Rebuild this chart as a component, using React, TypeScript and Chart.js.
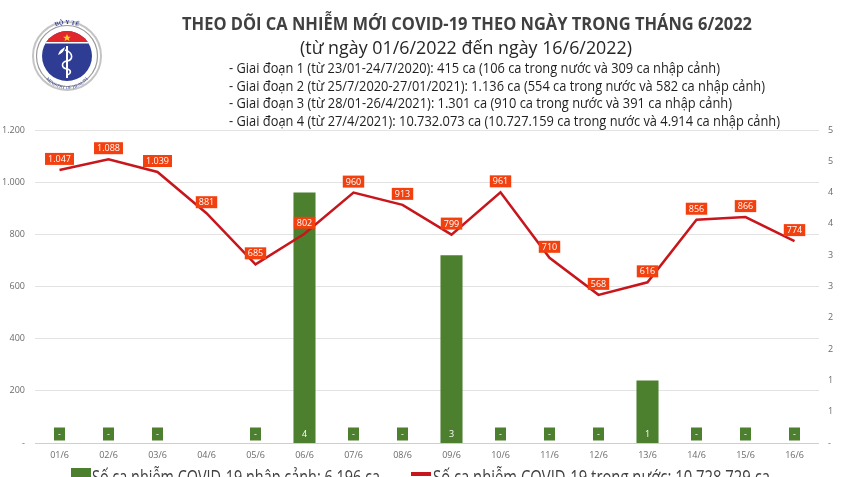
import React, { useEffect, useRef } from "react";
import { Chart, registerables } from "chart.js";

Chart.register(...registerables);

const categories = ["01/6", "02/6", "03/6", "04/6", "05/6", "06/6", "07/6", "08/6", "09/6", "10/6", "11/6", "12/6", "13/6", "14/6", "15/6", "16/6"];
const domesticCases = [1047, 1088, 1039, 881, 685, 802, 960, 913, 799, 961, 710, 568, 616, 856, 866, 774];
const importedCases: (number | null)[] = [0, 0, 0, null, 0, 4, 0, 0, 3, 0, 0, 0, 1, 0, 0, 0];

const titleText = "THEO DÕI CA NHIỄM MỚI COVID-19 THEO NGÀY TRONG THÁNG 6/2022";
const subtitleText = "(từ ngày 01/6/2022 đến ngày 16/6/2022)";
const periodLines = [
  "- Giai đoạn 1 (từ 23/01-24/7/2020): 415 ca (106 ca trong nước và 309 ca nhập cảnh)",
  "- Giai đoạn 2 (từ 25/7/2020-27/01/2021): 1.136 ca (554 ca trong nước và 582 ca nhập cảnh)",
  "- Giai đoạn 3 (từ 28/01-26/4/2021): 1.301 ca (910 ca trong nước và 391 ca nhập cảnh)",
  "- Giai đoạn 4 (từ 27/4/2021): 10.732.073 ca (10.727.159 ca trong nước và 4.914 ca nhập cảnh)",
];
const legendImported = "Số ca nhiễm COVID-19 nhập cảnh: 6.196 ca";
const legendDomestic = "Số ca nhiễm COVID-19 trong nước: 10.728.729 ca";

const BAR_COLOR = "#4c7f2e";
const LINE_COLOR = "#c8161d";
const LABEL_RED = "#f2400e";
const TICK_COLOR = "#6b6b6b";

const fmt = (n: number) => String(Math.round(n)).replace(/\B(?=(\d{3})+(?!\d))/g, ".");

const labelPlugin = {
  id: "valueLabels",
  afterDatasetsDraw(chart: any) {
    const ctx = chart.ctx;
    const barMeta = chart.getDatasetMeta(0);
    const lineMeta = chart.getDatasetMeta(1);
    const y2 = chart.scales.y2;
    ctx.save();
    ctx.textAlign = "center";
    ctx.textBaseline = "middle";
    ctx.font = '9px "Open Sans"';
    barMeta.data.forEach((el: any, i: number) => {
      const v = importedCases[i];
      if (v === null || v === undefined) return;
      const x = el.x;
      const base = y2.getPixelForValue(0);
      const w = 11, h = 13;
      const cy = base - 9;
      ctx.fillStyle = BAR_COLOR;
      ctx.fillRect(x - w / 2, cy - h / 2, w, h);
      ctx.fillStyle = "#ffffff";
      ctx.fillText(v === 0 ? "-" : String(v), x, cy + 0.5);
    });
    lineMeta.data.forEach((el: any, i: number) => {
      const txt = fmt(domesticCases[i]);
      const tw = ctx.measureText(txt).width;
      const w = tw + 6, h = 12;
      const cx = el.x;
      const cy = el.y - 11;
      ctx.fillStyle = LABEL_RED;
      ctx.fillRect(cx - w / 2, cy - h / 2, w, h);
      ctx.fillStyle = "#ffffff";
      ctx.fillText(txt, cx, cy + 0.5);
    });
    ctx.restore();
  },
};

function Logo() {
  const cx = 67, cy = 56;
  return (
    <g>
      <defs>
        <clipPath id="innerClip">
          <circle cx={cx} cy={cy} r={25} />
        </clipPath>
        <path id="bottomArc" d={`M ${cx - 27} ${cy + 6} A 27 27 0 0 0 ${cx + 27} ${cy + 6}`} />
        <path id="topArc" d={`M ${cx - 28} ${cy - 4} A 28 28 0 0 1 ${cx + 28} ${cy - 4}`} />
      </defs>
      <circle cx={cx} cy={cy} r={34} fill="#ffffff" stroke="#c4c4c4" strokeWidth={2} />
      <circle cx={cx} cy={cy} r={30.5} fill="#ffffff" stroke="#9a9a9a" strokeWidth={1.2} />
      <circle cx={cx} cy={cy} r={25} fill="#2e3d93" />
      <g clipPath="url(#innerClip)">
        <rect x={cx - 26} y={cy - 26} width={52} height={12} fill="#e1262c" />
        <rect x={cx - 26} y={cy - 14} width={52} height={1.5} fill="#ffffff" />
      </g>
      <polygon points={`${cx},${cy - 22} ${cx + 1.2},${cy - 19.3} ${cx + 3.8},${cy - 19.3} ${cx + 1.7},${cy - 17.6} ${cx + 2.4},${cy - 15} ${cx},${cy - 16.6} ${cx - 2.4},${cy - 15} ${cx - 1.7},${cy - 17.6} ${cx - 3.8},${cy - 19.3} ${cx - 1.2},${cy - 19.3}`} fill="#ffd21f" />
      <line x1={cx} y1={cy - 10} x2={cx} y2={cy + 22} stroke="#ffffff" strokeWidth={2} />
      <path d={`M ${cx - 2} ${cy - 6} C ${cx + 7} ${cy - 3}, ${cx + 6} ${cy + 4}, ${cx} ${cy + 5} C ${cx - 6} ${cy + 6}, ${cx - 6} ${cy + 12}, ${cx} ${cy + 13} C ${cx + 5} ${cy + 14}, ${cx + 4} ${cy + 18}, ${cx} ${cy + 19}`} stroke="#ffffff" strokeWidth={1.6} fill="none" />
      <path d={`M ${cx - 9} ${cy - 1} C ${cx - 7} ${cy - 7}, ${cx - 3} ${cy - 8}, ${cx - 2} ${cy - 9} C ${cx - 3} ${cy - 4}, ${cx - 6} ${cy - 2}, ${cx - 9} ${cy - 1} Z`} fill="#ffffff" />
      <text fontFamily="Liberation Serif" fontSize={6} fontWeight={700} fill="#2e3d93">
        <textPath href="#topArc" startOffset="50%" textAnchor="middle">BỘ Y TẾ</textPath>
      </text>
      <text fontFamily="Liberation Serif" fontSize={4.6} fill="#2e3d93">
        <textPath href="#bottomArc" startOffset="50%" textAnchor="middle">MINISTRY OF HEALTH</textPath>
      </text>
    </g>
  );
}

export default function App() {
  const canvasRef = useRef<HTMLCanvasElement | null>(null);

  useEffect(() => {
    if (!canvasRef.current) return;
    const chart = new Chart(canvasRef.current, {
      type: "bar",
      data: {
        labels: categories,
        datasets: [
          {
            type: "bar",
            label: legendImported,
            data: importedCases as any,
            backgroundColor: BAR_COLOR,
            yAxisID: "y2",
            barPercentage: 0.45,
            categoryPercentage: 1,
            order: 2,
          },
          {
            type: "line",
            label: legendDomestic,
            data: domesticCases,
            borderColor: LINE_COLOR,
            backgroundColor: LINE_COLOR,
            borderWidth: 2.5,
            pointRadius: 0,
            tension: 0,
            yAxisID: "y",
            order: 1,
          } as any,
        ],
      },
      options: {
        responsive: false,
        animation: false,
        layout: { padding: { top: 130, left: 0, right: 0, bottom: 0 } },
        plugins: {
          legend: { display: false },
          title: { display: false },
          tooltip: { enabled: false },
        },
        scales: {
          x: {
            grid: { display: false, drawTicks: false },
            border: { display: false },
            ticks: {
              color: TICK_COLOR,
              font: { family: "Open Sans", size: 9 },
              padding: 7,
              maxRotation: 0,
              autoSkip: false,
            },
            afterFit: (s: any) => {
              s.height = 34;
            },
          },
          y: {
            position: "left",
            min: 0,
            max: 1200,
            border: { display: false },
            grid: {
              drawTicks: false,
              color: (c: any) => (c.tick && c.tick.value === 0 ? "#cfcfcf" : "#e3e3e3"),
              lineWidth: 1,
            },
            ticks: {
              stepSize: 200,
              color: TICK_COLOR,
              font: { family: "Open Sans", size: 9 },
              padding: 10,
              callback: (v: any) => (Number(v) === 0 ? "-" : fmt(Number(v))),
            },
            afterFit: (s: any) => {
              s.width = 35;
            },
          },
          y2: {
            position: "right",
            min: 0,
            max: 5,
            border: { display: false },
            grid: { display: false, drawTicks: false },
            ticks: {
              stepSize: 0.5,
              color: TICK_COLOR,
              font: { family: "Open Sans", size: 9 },
              padding: 9,
              callback: (v: any) => (Number(v) === 0 ? "-" : String(Math.round(Number(v)))),
            },
            afterFit: (s: any) => {
              s.width = 29;
            },
          },
        },
      },
      plugins: [labelPlugin],
    } as any);
    return () => chart.destroy();
  }, []);

  const lineBaselines = [73, 90.5, 108, 125.5];
  const lineEnds = [720, 765, 732, 780];
  const lineStart = 229;

  return (
    <div style={{ position: "absolute", left: 0, top: 0, width: 848, height: 477, overflow: "hidden", background: "#ffffff" }}>
      <canvas ref={canvasRef} width={848} height={477} style={{ position: "absolute", left: 0, top: 0, width: 848, height: 477 }} />
      <svg width={848} height={477} style={{ position: "absolute", left: 0, top: 0, pointerEvents: "none" }}>
        <Logo />
        <text x={182} y={30} textLength={570} lengthAdjust="spacingAndGlyphs" fontFamily="Open Sans" fontWeight={700} fontSize={18} fill="#404040">
          {titleText}
        </text>
        <text x={300} y={54} textLength={332} lengthAdjust="spacingAndGlyphs" fontFamily="Open Sans" fontSize={18} fill="#262626">
          {subtitleText}
        </text>
        {periodLines.map((t, i) => (
          <text key={i} x={lineStart} y={lineBaselines[i]} textLength={lineEnds[i] - lineStart} lengthAdjust="spacingAndGlyphs" fontFamily="Open Sans" fontSize={14} fill="#1f1f1f">
            {t}
          </text>
        ))}
        <rect x={71} y={468} width={20} height={16} fill={BAR_COLOR} />
        <text x={92} y={484} textLength={288} lengthAdjust="spacingAndGlyphs" fontFamily="Open Sans" fontSize={20} fill="#404040">
          {legendImported}
        </text>
        <rect x={411} y={472} width={20} height={4} fill={LINE_COLOR} />
        <text x={433} y={484} textLength={337} lengthAdjust="spacingAndGlyphs" fontFamily="Open Sans" fontSize={20} fill="#404040">
          {legendDomestic}
        </text>
      </svg>
    </div>
  );
}
